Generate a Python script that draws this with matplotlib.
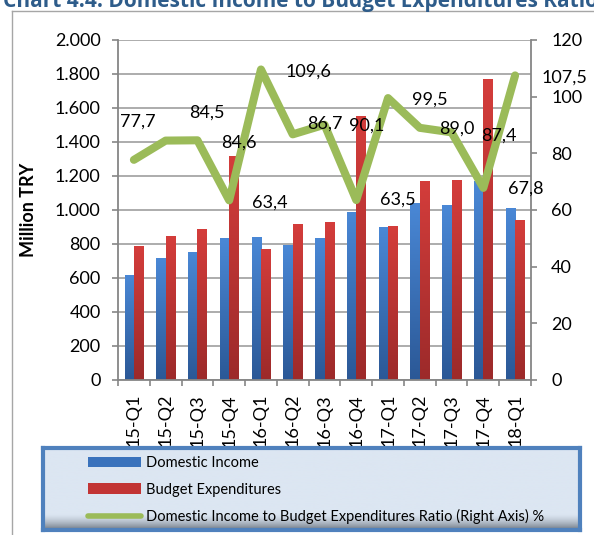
import matplotlib
matplotlib.use('Agg')
import matplotlib.pyplot as plt
import numpy as np
from matplotlib.patches import Patch
from matplotlib.lines import Line2D
from matplotlib.colors import LinearSegmentedColormap, to_rgb
from matplotlib.ticker import FuncFormatter, FixedLocator

plt.rcParams['font.family'] = ['Lato', 'DejaVu Sans']

categories = ['15-Q1', '15-Q2', '15-Q3', '15-Q4', '16-Q1', '16-Q2', '16-Q3',
              '16-Q4', '17-Q1', '17-Q2', '17-Q3', '17-Q4', '18-Q1']
domestic_income = [618, 718, 753, 835, 841, 794, 835, 990, 900, 1043, 1029, 1168, 1014]
budget_expenditures = [788, 847, 888, 1318, 771, 918, 929, 1553, 906, 1171, 1176, 1771, 941]
ratio = [77.7, 84.5, 84.6, 63.4, 109.6, 86.7, 90.1, 63.5, 99.5, 89.0, 87.4, 67.8, 107.5]
left_ticks = [0, 200, 400, 600, 800, 1000, 1200, 1400, 1600, 1800, 2000]
right_ticks = [0, 20, 40, 60, 80, 100, 120]
series_names = ['Domestic Income', 'Budget Expenditures',
                'Domestic Income to Budget Expenditures Ratio (Right Axis) %']

# label offsets in pixels (placement of data labels, like the reference)
label_offsets = [(4, 38), (41, 28), (41, -2), (41, -2), (47, -2), (32, 11), (42, -1),
                 (42, 0), (42, -2), (37, -1), (47, -3), (42, -1), (49, -2)]

W, H = 594, 535
fig = plt.figure(figsize=(W / 100, H / 100), dpi=100)
ax = fig.add_axes([118 / W, 1 - 380 / H, (531 - 118) / W, (380 - 40) / H])

x = np.arange(len(categories))
bw = 0.295
blue_cmap = LinearSegmentedColormap.from_list('b', ['#2B5896', '#4A88D6'])
red_cmap = LinearSegmentedColormap.from_list('r', ['#9C2A2A', '#D43D3B'])
grad = np.linspace(0, 1, 256).reshape(-1, 1)

bars_b = ax.bar(x - bw / 2, domestic_income, bw, facecolor='none', edgecolor='none', zorder=2)
bars_r = ax.bar(x + bw / 2, budget_expenditures, bw, facecolor='none', edgecolor='none', zorder=2)
for bars, cm in ((bars_b, blue_cmap), (bars_r, red_cmap)):
    for p in bars:
        x0, w, h = p.get_x(), p.get_width(), p.get_height()
        im = ax.imshow(grad, extent=[x0, x0 + w, 0, h], origin='lower', cmap=cm,
                       aspect='auto', zorder=2, interpolation='bilinear')
        im.set_clip_path(p)

ax.set_aspect('auto')
ax.set_xlim(-0.5, len(categories) - 0.5)
ax.set_ylim(0, 2000)
ax.yaxis.set_major_locator(FixedLocator(left_ticks))
ax.yaxis.set_major_formatter(FuncFormatter(lambda v, p: f"{int(v):,}".replace(',', '.')))
ax.grid(axis='y', color='#A6A6A6', linewidth=1.3)
ax.set_axisbelow(True)

ax.set_xticks(x)
ax.set_xticklabels(categories, rotation=90, fontsize=13)
ax.set_xticks(np.arange(-0.5, len(categories)), minor=True)
ax.tick_params(axis='x', which='major', length=0, pad=10)
ax.tick_params(axis='x', which='minor', length=4.5, width=1.2, color='#868686', direction='out')
ax.tick_params(axis='y', length=4.5, width=1.2, color='#868686', direction='out', pad=8, labelsize=13)

for s in ('top', 'right'):
    ax.spines[s].set_visible(False)
for s in ('left', 'bottom'):
    ax.spines[s].set_color('#868686')
    ax.spines[s].set_linewidth(1.3)

ax2 = ax.twinx()
ax2.plot(x, ratio, color='#9BBB59', linewidth=5.8, solid_joinstyle='round',
         solid_capstyle='round', zorder=3)
ax2.set_ylim(0, 120)
ax2.yaxis.set_major_locator(FixedLocator(right_ticks))
ax2.tick_params(axis='y', length=4.5, width=1.2, color='#868686', direction='out', pad=10, labelsize=13)
for s in ('top', 'left', 'bottom'):
    ax2.spines[s].set_visible(False)
ax2.spines['right'].set_color('#868686')
ax2.spines['right'].set_linewidth(1.3)

for xi, v, (dx, dy) in zip(x, ratio, label_offsets):
    ax2.annotate(f"{v:.1f}".replace('.', ','), (xi, v), xytext=(dx, dy),
                 textcoords='offset pixels', ha='center', va='center',
                 fontsize=13, color='black', zorder=4)

fig.text(29 / W, 1 - 210 / H, 'Million TRY', rotation=90, ha='center', va='center',
         fontsize=13, fontweight='bold')

# title (cropped at top, as in the reference)
fig.text(3 / W, 1 - 7.5 / H, 'Chart 4.4: Domestic Income to Budget Expenditures Ratio',
         ha='left', va='baseline', fontsize=15, fontweight='bold', color='#2E5C8A',
         family=['Open Sans', 'DejaVu Sans'])

# outer frame lines
fig.add_artist(Line2D([12 / W, 12 / W], [0, 1 - 11 / H], color='#A6A6A6', lw=1,
                      transform=fig.transFigure))
fig.add_artist(Line2D([12 / W, 1], [1 - 11 / H, 1 - 11 / H], color='#A6A6A6', lw=1,
                      transform=fig.transFigure))

# legend box background (light blue with darker band at the bottom)
lax = fig.add_axes([43 / W, (535 - 530) / H, (580 - 43) / W, (530 - 448) / H])
lax.set_zorder(2)
n = 200
top_c = np.array(to_rgb('#DCE6F2'))
bot_c = np.array(to_rgb('#6E7884'))
t = np.linspace(0, 1, n)  # 0 bottom .. 1 top
f = np.clip((0.2 - t) / 0.2, 0, 1) ** 1.5
img = (top_c[None, :] * (1 - f[:, None]) + bot_c[None, :] * f[:, None])[:, None, :]
lax.imshow(img, origin='lower', aspect='auto', extent=[0, 1, 0, 1])
lax.set_xticks([])
lax.set_yticks([])
for s in lax.spines.values():
    s.set_color('#4F81BD')
    s.set_linewidth(3)

handles = [Patch(facecolor='#3A72BC', edgecolor='none'),
           Patch(facecolor='#C23434', edgecolor='none'),
           Line2D([], [], color='#9BBB59', linewidth=4, solid_capstyle='round')]
leg = fig.legend(handles, series_names, loc='upper left',
                 bbox_to_anchor=(88 / W, 1 - 456 / H), frameon=False, fontsize=10.5,
                 handlelength=3.6, handletextpad=0.35, labelspacing=0.86,
                 borderpad=0, borderaxespad=0)
leg.set_zorder(6)

fig.savefig('out.png', dpi=100)
